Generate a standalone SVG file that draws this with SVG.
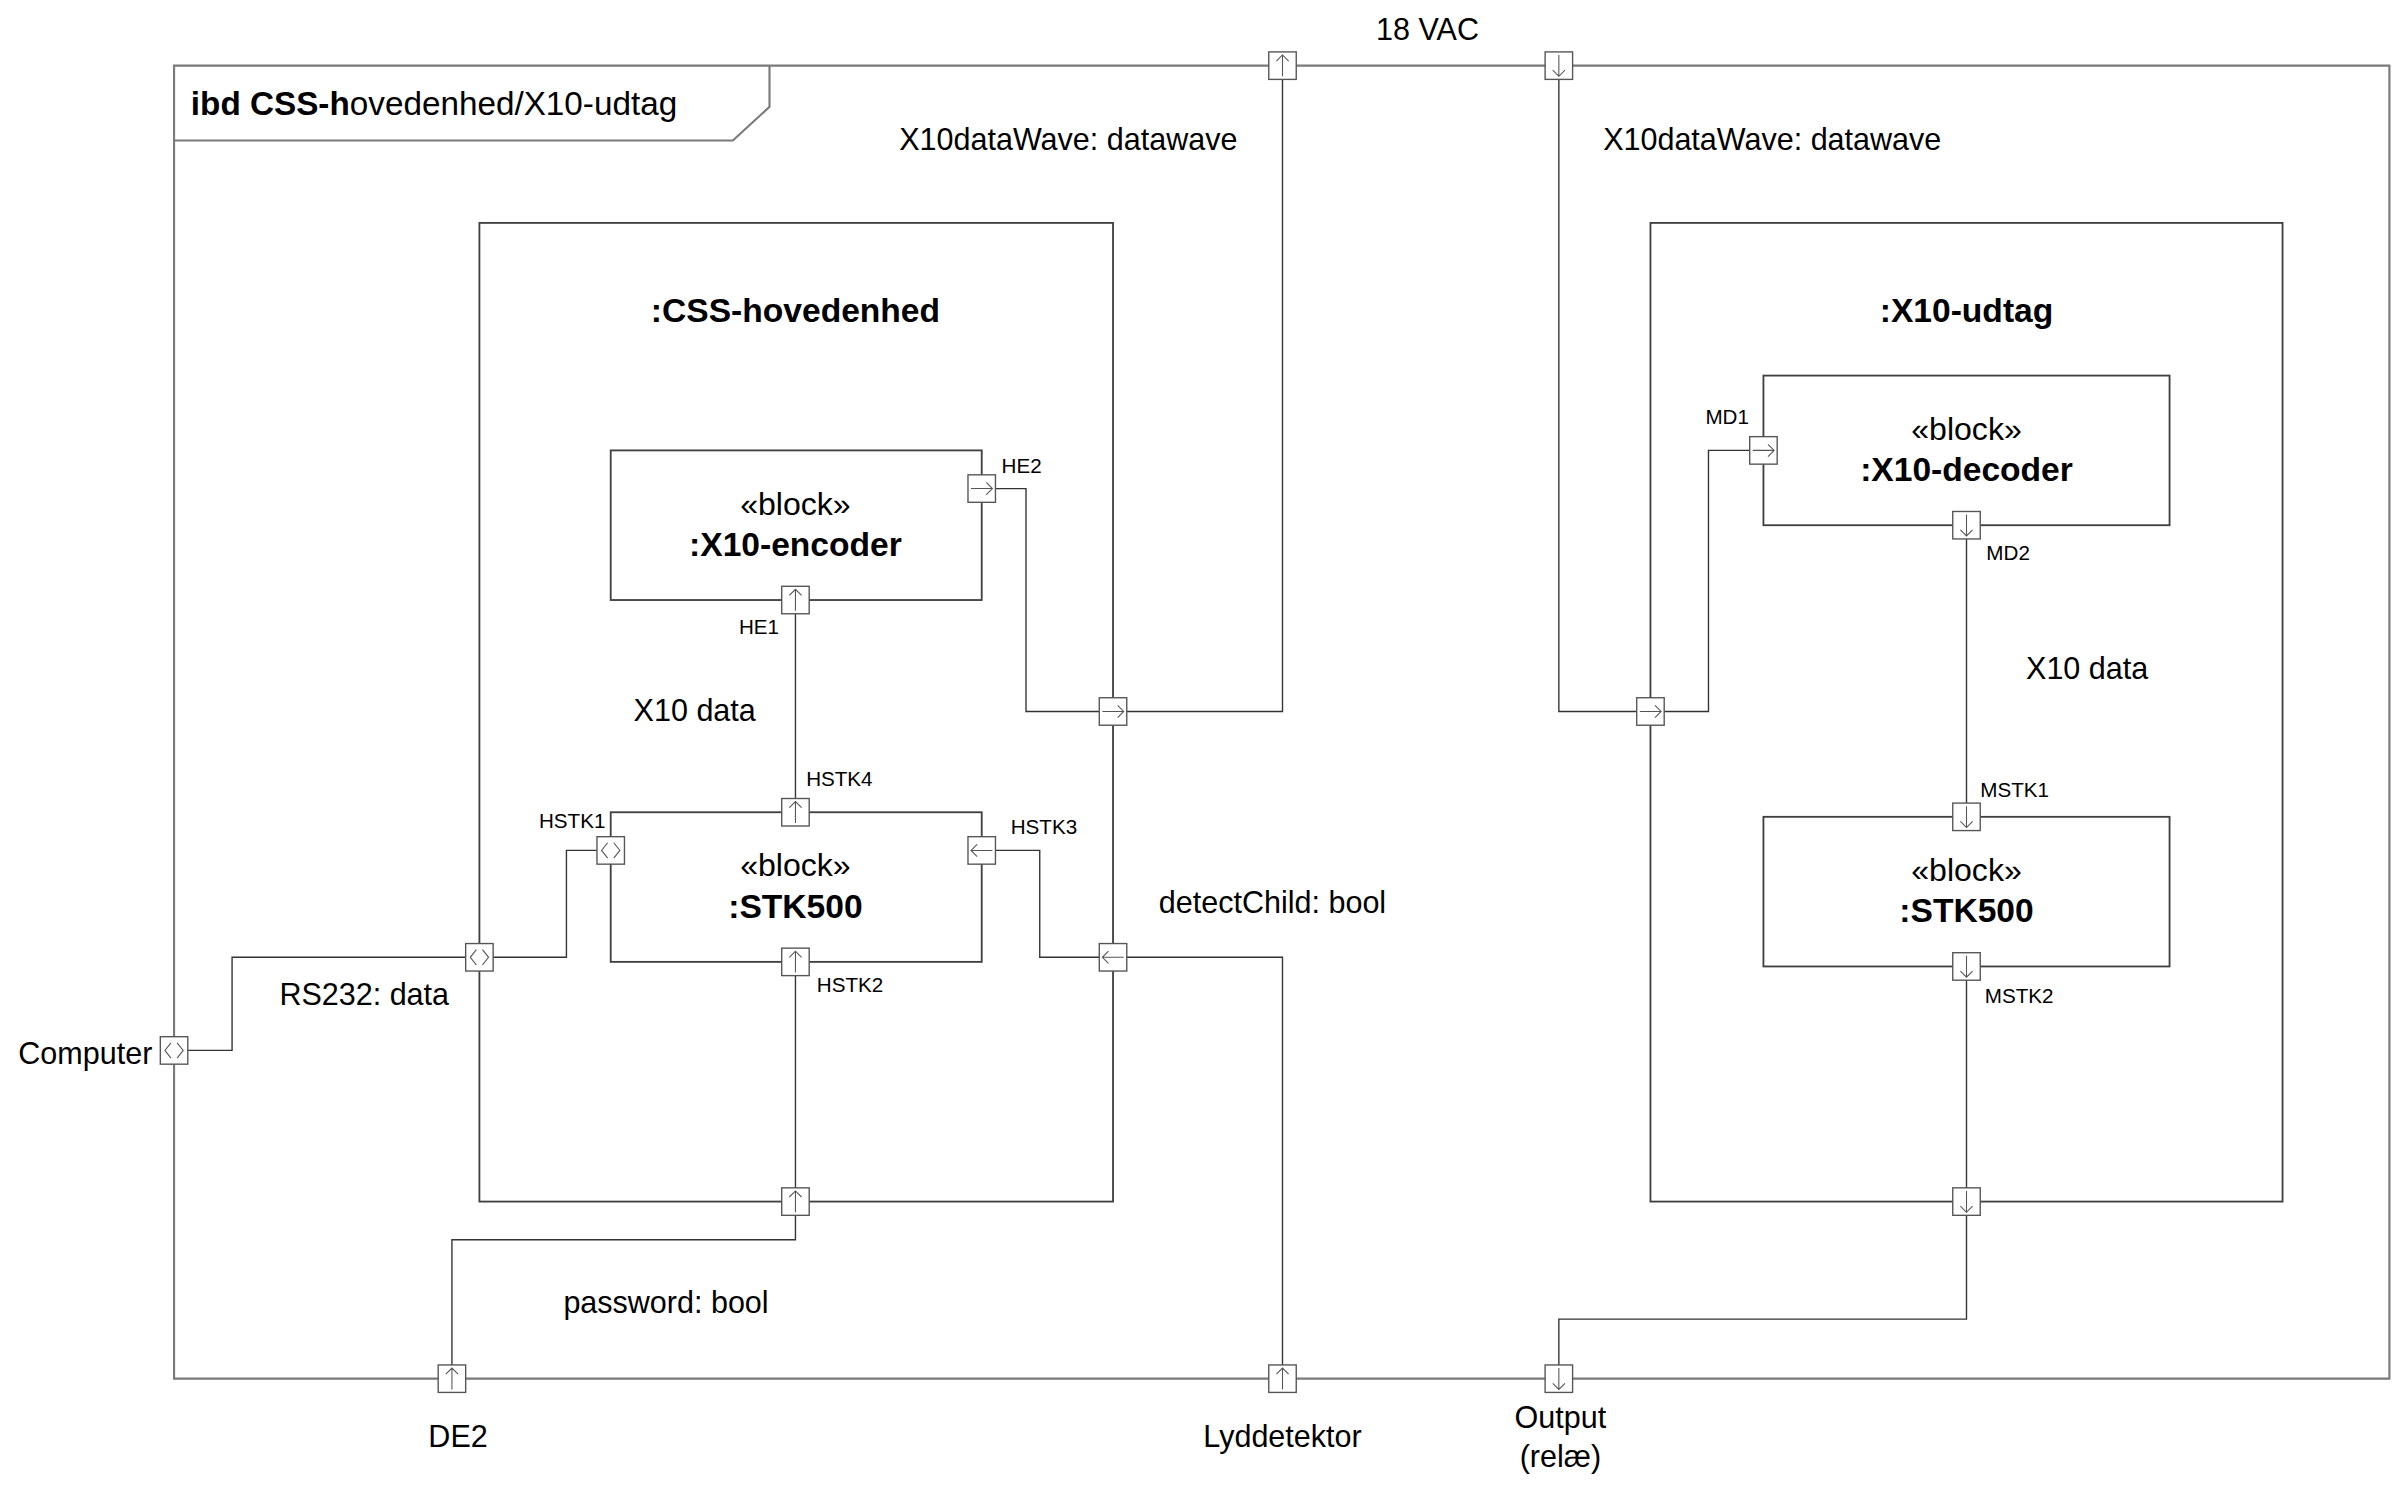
<svg xmlns="http://www.w3.org/2000/svg" width="2394" height="1494" viewBox="0 0 2394 1494">
<defs>
<style>
.frame{fill:none;stroke:#7a7a7a;stroke-width:1.4}
.blk{fill:none;stroke:#404040;stroke-width:1.2}
.con{fill:none;stroke:#333;stroke-width:0.9}
.pbox{fill:#fff;stroke:#555;stroke-width:0.9}
.parr{fill:none;stroke:#555;stroke-width:0.7}
.lbl{font-family:"Liberation Sans",Arial,sans-serif;font-size:20px;fill:#000}
.mid{text-anchor:middle}
.plbl{font-family:"Liberation Sans",Arial,sans-serif;font-size:13.5px;fill:#000}
.st{font-family:"Liberation Sans",Arial,sans-serif;font-size:21px;fill:#000;text-anchor:middle}
.nm{font-family:"Liberation Sans",Arial,sans-serif;font-size:22px;font-weight:bold;fill:#000;text-anchor:middle}
.ttl{font-family:"Liberation Sans",Arial,sans-serif;font-size:21.8px;fill:#000}
</style>
<g id="pu"><rect class="pbox" x="-9" y="-9" width="18" height="18"/><path class="parr" d="M0,7V-7M-4,-3L0,-7L4,-3"/></g>
<g id="pd"><rect class="pbox" x="-9" y="-9" width="18" height="18"/><path class="parr" d="M0,-7V7M-4,3L0,7L4,3"/></g>
<g id="pr"><rect class="pbox" x="-9" y="-9" width="18" height="18"/><path class="parr" d="M-7,0H7M3,-4L7,0L3,4"/></g>
<g id="pl"><rect class="pbox" x="-9" y="-9" width="18" height="18"/><path class="parr" d="M7,0H-7M-3,-4L-7,0L-3,4"/></g>
<g id="pb"><rect class="pbox" x="-9" y="-9" width="18" height="18"/><path class="parr" d="M-2,-5L-6,0L-2,5M2,-5L6,0L2,5"/></g>
</defs>
<rect x="0" y="0" width="2394" height="1494" fill="#fff"/>
<g transform="scale(1.526786)">
<g id="frame">
<path class="frame" d="M114,43H1565V903H114Z"/>
<path class="frame" d="M504,43V70L480,92H114"/>
<text class="ttl" x="125" y="75"><tspan font-weight="bold">ibd CSS-h</tspan>ovedenhed/X10-udtag</text>
</g>
<g id="css-hovedenhed">
<rect class="blk" x="314" y="146" width="415" height="641"/>
<text class="nm" x="521" y="211">:CSS-hovedenhed</text>
</g>
<g id="x10-udtag">
<rect class="blk" x="1081" y="146" width="414" height="641"/>
<text class="nm" x="1288" y="211">:X10-udtag</text>
</g>
<g id="x10-encoder">
<rect class="blk" x="400" y="295" width="243" height="98"/>
<text class="st" x="521" y="337">«block»</text>
<text class="nm" x="521" y="364">:X10-encoder</text>
</g>
<g id="stk500-left">
<rect class="blk" x="400" y="532" width="243" height="98"/>
<text class="st" x="521" y="574">«block»</text>
<text class="nm" x="521" y="601">:STK500</text>
</g>
<g id="x10-decoder">
<rect class="blk" x="1155" y="246" width="266" height="98"/>
<text class="st" x="1288" y="288">«block»</text>
<text class="nm" x="1288" y="315">:X10-decoder</text>
</g>
<g id="stk500-right">
<rect class="blk" x="1155" y="535" width="266" height="98"/>
<text class="st" x="1288" y="577">«block»</text>
<text class="nm" x="1288" y="604">:STK500</text>
</g>
<g id="connectors">
<path class="con" d="M729,466H840V43"/>
<path class="con" d="M643,320H672V466H729"/>
<path class="con" d="M1021,43V466H1081"/>
<path class="con" d="M1081,466H1119V295H1155"/>
<path class="con" d="M521,393V532"/>
<path class="con" d="M400,557H371V627H314"/>
<path class="con" d="M314,627H152V688H114"/>
<path class="con" d="M643,557H681V627H729"/>
<path class="con" d="M729,627H840V903"/>
<path class="con" d="M521,630V787"/>
<path class="con" d="M521,787V812H296V903"/>
<path class="con" d="M1288,344V535"/>
<path class="con" d="M1288,633V787"/>
<path class="con" d="M1288,787V864H1021V903"/>
</g>
<g id="ports">
<use href="#pu" x="840" y="43"/>
<use href="#pd" x="1021" y="43"/>
<use href="#pb" x="114" y="688"/>
<use href="#pu" x="296" y="903"/>
<use href="#pu" x="840" y="903"/>
<use href="#pd" x="1021" y="903"/>
<use href="#pb" x="314" y="627"/>
<use href="#pr" x="729" y="466"/>
<use href="#pl" x="729" y="627"/>
<use href="#pu" x="521" y="787"/>
<use href="#pr" x="643" y="320"/>
<use href="#pu" x="521" y="393"/>
<use href="#pu" x="521" y="532"/>
<use href="#pb" x="400" y="557"/>
<use href="#pl" x="643" y="557"/>
<use href="#pu" x="521" y="630"/>
<use href="#pr" x="1081" y="466"/>
<use href="#pd" x="1288" y="787"/>
<use href="#pr" x="1155" y="295"/>
<use href="#pd" x="1288" y="344"/>
<use href="#pd" x="1288" y="535"/>
<use href="#pd" x="1288" y="633"/>
</g>
<g id="labels">
<text class="lbl mid" x="935" y="26">18 VAC</text>
<text class="lbl" x="589" y="98">X10dataWave: datawave</text>
<text class="lbl" x="1050" y="98">X10dataWave: datawave</text>
<text class="lbl" x="415" y="472">X10 data</text>
<text class="lbl" x="1327" y="445">X10 data</text>
<text class="lbl" x="759" y="598">detectChild: bool</text>
<text class="lbl" x="183" y="658">RS232: data</text>
<text class="lbl" x="12" y="697">Computer</text>
<text class="lbl" x="369" y="860">password: bool</text>
<text class="lbl mid" x="300" y="948">DE2</text>
<text class="lbl mid" x="840" y="948">Lyddetektor</text>
<text class="lbl mid" x="1022" y="935">Output</text>
<text class="lbl mid" x="1022" y="961">(relæ)</text>
<text class="plbl" x="656" y="310">HE2</text>
<text class="plbl" x="484" y="415">HE1</text>
<text class="plbl" x="528" y="515">HSTK4</text>
<text class="plbl" x="353" y="542">HSTK1</text>
<text class="plbl" x="662" y="546">HSTK3</text>
<text class="plbl" x="535" y="650">HSTK2</text>
<text class="plbl" x="1117" y="278">MD1</text>
<text class="plbl" x="1301" y="367">MD2</text>
<text class="plbl" x="1297" y="522">MSTK1</text>
<text class="plbl" x="1300" y="657">MSTK2</text>
</g>
</g>
</svg>
